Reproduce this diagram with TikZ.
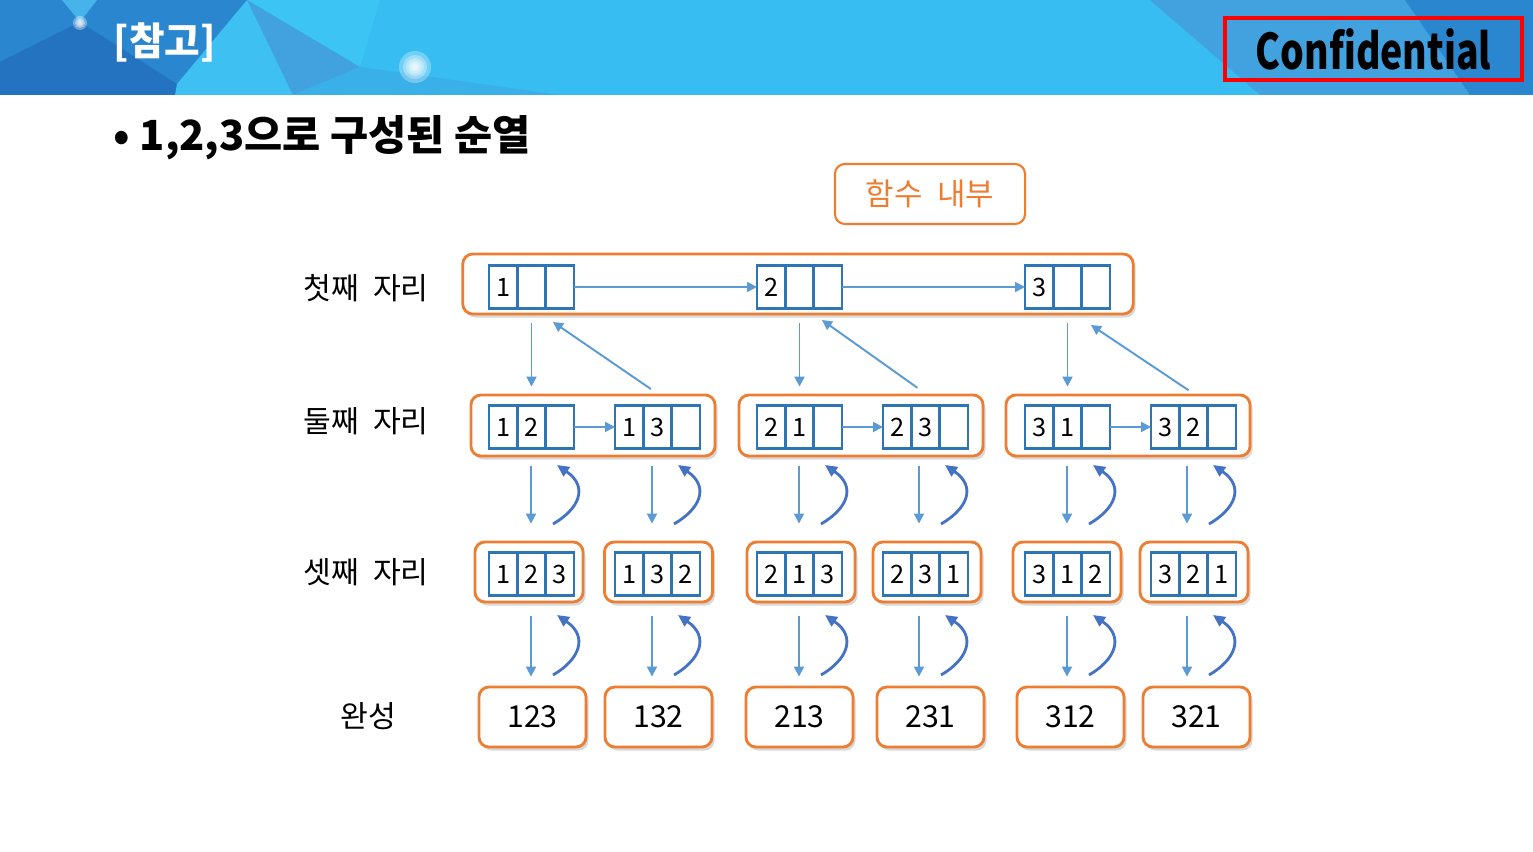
\documentclass[tikz,border=0pt]{standalone}
\usepackage{fontspec}
\setmainfont{Noto Sans CJK KR}
\usepackage{tikz}
\usetikzlibrary{arrows.meta, positioning, shadows}

\definecolor{boxorange}{HTML}{ED7D31}
\definecolor{cellblue}{HTML}{2E75B6}
\definecolor{arrblue}{HTML}{5B9BD5}
\definecolor{backblue}{HTML}{4472C4}
\definecolor{redline}{HTML}{FF0000}
\definecolor{hdrcyan}{HTML}{37BDF1}
\definecolor{hdrmid}{HTML}{2A86CF}
\definecolor{hdrdeep}{HTML}{2373C1}
\definecolor{hdrpale}{HTML}{46B3EA}
\definecolor{hdrlight}{HTML}{3CC4F5}
\definecolor{hdrsky}{HTML}{3EC1F2}
\definecolor{hdrsteel}{HTML}{42A2E0}
\definecolor{hdrsoft}{HTML}{3AB0E9}

% three cells in a row, west end at (x,y)
\newcommand{\triple}[6]{%
  \node[cell, anchor=west] (#1-1) at (#2,#3) {#4};
  \node[cell, right=0pt of #1-1] (#1-2) {#5};
  \node[cell, right=0pt of #1-2] (#1-3) {#6};
}

\begin{document}
\begin{tikzpicture}[
    x=0.01cm, y=-0.01cm,
    font=\fontsize{8.2}{10}\selectfont,
    frame/.style={draw=boxorange, line width=0.8pt, rounded corners=0.1cm, fill=white,
      minimum height=0.6cm, inner sep=0pt,
      drop shadow={shadow xshift=0.025cm, shadow yshift=-0.035cm, opacity=0.25, fill=black!60}},
    cell/.style={draw=cellblue, line width=0.7pt, fill=white, minimum width=0.2833cm,
      minimum height=0.43cm, inner sep=0pt, outer sep=0pt, font=\fontsize{7.2}{9}\selectfont},
    arr/.style={arrblue, line width=0.55pt, -{Triangle[length=1.0mm, width=1.0mm]}},
    back/.style={backblue, line width=0.8pt, -{Triangle[length=1.2mm, width=1.1mm]}},
    rowlabel/.style={inner sep=0pt, font=\fontsize{8.6}{10}\selectfont}
]
\useasboundingbox (0,0) rectangle (1533,852);
\fill[white] (0,0) rectangle (1533,852);

% header band
\fill[hdrcyan] (0,0) rectangle (1533,95);
\fill[hdrmid] (0,0) -- (250,0) -- (175,95) -- (0,95) -- cycle;
\fill[hdrpale] (62,0) -- (97,0) -- (80,22) -- cycle;
\fill[hdrdeep] (0,62) -- (80,22) -- (177,84) -- (175,95) -- (0,95) -- cycle;
\fill[hdrsky] (175,95) -- (177,84) -- (247,0) -- (293,95) -- cycle;
\fill[hdrlight] (247,0) -- (380,0) -- (360,67) -- cycle;
\fill[hdrsteel] (247,0) -- (360,67) -- (293,95) -- cycle;
\fill[hdrsoft] (293,95) -- (360,67) -- (560,95) -- cycle;
\fill[hdrsteel] (1150,0) -- (1405,0) -- (1470,95) -- (1260,95) -- cycle;
\fill[hdrmid] (1405,0) -- (1533,0) -- (1533,95) -- (1470,95) -- cycle;
% glows
\foreach \r in {0.07,0.05,0.035,0.02}
  \fill[white, opacity=0.35] (80,23) circle[radius=\r cm];
\foreach \r in {0.16,0.12,0.09,0.065,0.045,0.03}
  \fill[white, opacity=0.3] (415,67) circle[radius=\r cm];

\node[anchor=west, inner sep=0pt, text=white, font=\bfseries\fontsize{11}{13}\selectfont] (refmark) at (113,43) {[참고]};
\node[draw=redline, line width=1.2pt, minimum width=2.97cm, minimum height=0.62cm] (confbox) at (1373.5,49) {};
\node[xscale=0.76, inner sep=0pt, font=\bfseries\fontsize{14}{16}\selectfont] (conftext) at (confbox.center) {Confidential};

% title
\node[anchor=west, inner sep=0pt, font=\bfseries\fontsize{11.8}{14}\selectfont] (title) at (113,138) {• 1,2,3으로 구성된 순열};

\node[draw=boxorange, line width=0.6pt, rounded corners=0.1cm, minimum width=1.9cm, minimum height=0.6cm,
  text=boxorange, font=\fontsize{8.8}{10}\selectfont] (inside) at (930,194) {함수\hspace{0.25em} 내부};

% row labels
\node[rowlabel] (lab1) at (366,288) {첫째\hspace{0.25em} 자리};
\node[rowlabel] (lab2) at (366,421) {둘째\hspace{0.25em} 자리};
\node[rowlabel] (lab3) at (366,572) {셋째\hspace{0.25em} 자리};
\node[rowlabel] (lab4) at (368,716) {완성};

% first place
\node[frame, minimum width=6.7cm] (first) at (798,284) {};
\triple{f1}{489}{287}{1}{}{}
\triple{f2}{757}{287}{2}{}{}
\triple{f3}{1025}{287}{3}{}{}
\draw[arr] (f1-3) -- (f2-1);
\draw[arr] (f2-3) -- (f3-1);

% second place
\node[frame, minimum width=2.44cm, minimum height=0.61cm] (sa) at (593,425.5) {};
\node[frame, minimum width=2.44cm, minimum height=0.61cm] (sb) at (861,425.5) {};
\node[frame, minimum width=2.44cm, minimum height=0.61cm] (sc) at (1128,425.5) {};
\triple{s1}{489}{427}{1}{2}{}
\triple{s2}{615}{427}{1}{3}{}
\triple{s3}{757}{427}{2}{1}{}
\triple{s4}{883}{427}{2}{3}{}
\triple{s5}{1025}{427}{3}{1}{}
\triple{s6}{1151}{427}{3}{2}{}
\draw[arr] (s1-3) -- (s2-1);
\draw[arr] (s3-3) -- (s4-1);
\draw[arr] (s5-3) -- (s6-1);

% third place
\foreach \n/\bx/\cx/\a/\b/\c in {1/529/489/1/2/3, 2/658.5/615/1/3/2, 3/801/757/2/1/3,
    4/927/883/2/3/1, 5/1067/1025/3/1/2, 6/1194/1151/3/2/1} {
  \node[frame, minimum width=1.08cm] (t\n) at (\bx,572) {};
  \triple{t\n c}{\cx}{574}{\a}{\b}{\c}
}

% results
\foreach \n/\bx/\v in {1/532.5/123, 2/658.5/132, 3/799.5/213, 4/930.5/231, 5/1070.5/312, 6/1196.5/321}
  \node[frame, minimum width=1.07cm, font=\fontsize{8.6}{10}\selectfont] (done\n) at (\bx,717) {\v};

% first -> second
\draw[arr, shorten <=0.08cm, shorten >=0.07cm] (first.south -| s1-2) -- (sa.north -| s1-2);
\draw[arr, shorten <=0.08cm, shorten >=0.07cm] (first.south -| s3-2) -- (sb.north -| s3-2);
\draw[arr, shorten <=0.08cm, shorten >=0.07cm] (first.south -| s5-2) -- (sc.north -| s5-2);
\coordinate (up1) at (553,322);
\coordinate (up2) at (822,320);
\coordinate (up3) at (1091,325);
\draw[arr, shorten <=0.08cm] (sa.north -| s2-2) -- (up1);
\draw[arr, shorten <=0.1cm] (sb.north -| s4-2) -- (up2);
\draw[arr, shorten <=0.06cm] (sc.north -| s6-2) -- (up3);

% second -> third -> result, with returns
\foreach \i/\c/\up in {1/531/sa, 2/652/sa, 3/799/sb, 4/919/sb, 5/1067/sc, 6/1187/sc} {
  \coordinate (col\i) at (\c,0);
  \draw[arr, shorten <=0.09cm, shorten >=0.17cm] (\up.south -| col\i) -- (t\i.north -| col\i);
  \draw[arr, shorten <=0.13cm, shorten >=0.09cm] (t\i.south -| col\i) -- (done\i.north -| col\i);
  \coordinate (ra\i) at (\c+22,524);
  \coordinate (rb\i) at (\c+26,465);
  \coordinate (rc\i) at (\c+22,675);
  \coordinate (rd\i) at (\c+26,615);
  \draw[back] (ra\i) .. controls +(26,-15) and +(32,22) .. (rb\i);
  \draw[back] (rc\i) .. controls +(26,-15) and +(32,22) .. (rd\i);
}
\end{tikzpicture}
\end{document}
